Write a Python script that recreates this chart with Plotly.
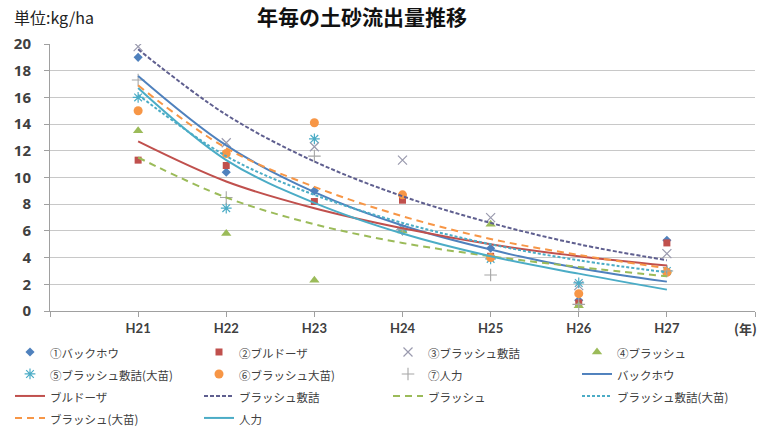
import plotly.graph_objects as go

years = ["H21", "H22", "H23", "H24", "H25", "H26", "H27"]
xpos = [1, 2, 3, 4, 5, 6, 7]

# measured points (kg/ha)
backhoe = [19.0, 10.4, 9.0, 6.0, 4.7, 0.8, 5.3]
bulldozer = [11.3, 10.9, 8.2, 8.3, 4.1, 0.6, 5.1]
brush_mat = [19.8, 12.6, 12.3, 11.3, 7.0, 1.9, 4.3]
brush = [13.5, 5.8, 2.3, 6.0, 6.5, 0.4, 3.0]
brush_mat_large = [16.0, 7.7, 12.9, 6.2, 3.9, 2.1, 3.0]
brush_large = [15.0, 11.8, 14.1, 8.7, 4.0, 1.3, 2.9]
manual = [17.3, 8.5, 11.6, 6.1, 2.7, 0.5, 3.0]

# trend lines
t_backhoe = [17.6, 12.4, 8.9, 6.4, 4.6, 3.2, 2.2]
t_bulldozer = [12.7, 9.7, 7.7, 6.2, 5.0, 4.1, 3.4]
t_brush_mat = [19.6, 14.7, 11.2, 8.6, 6.6, 5.0, 3.8]
t_brush = [11.5, 8.5, 6.5, 5.1, 4.1, 3.3, 2.6]
t_brush_mat_large = [16.2, 11.6, 8.7, 6.6, 5.0, 3.8, 2.9]
t_brush_large = [16.9, 12.2, 9.3, 7.1, 5.4, 4.2, 3.2]
t_manual = [16.7, 11.3, 8.1, 5.8, 4.1, 2.8, 1.6]

BLUE = "#4F81BD"
RED = "#C0504D"
GREEN = "#9BBB59"
AQUA = "#4BACC6"
ORANGE = "#F79646"
GRAYX = "#9a9aae"
GRAYP = "#a6a6a6"


def lg(s):
    return "<span style='font-size:11.5px'>" + s + "</span>"


fig = go.Figure()

pts = [
    ("①バックホウ", backhoe, dict(symbol="diamond", size=7, color=BLUE)),
    ("②ブルドーザ", bulldozer, dict(symbol="square", size=7, color=RED)),
    ("③ブラッシュ敷詰", brush_mat, dict(symbol="x-thin-open", size=9, color=GRAYX, line=dict(color=GRAYX, width=1.2))),
    ("④ブラッシュ", brush, dict(symbol="triangle-up", size=9, color=GREEN)),
    ("⑤ブラッシュ敷詰(大苗)", brush_mat_large, dict(symbol="asterisk-open", size=9, color=AQUA, line=dict(color=AQUA, width=1.2))),
    ("⑥ブラッシュ大苗)", brush_large, dict(symbol="circle", size=9, color=ORANGE)),
    ("⑦人力", manual, dict(symbol="cross-thin-open", size=9, color=GRAYP, line=dict(color=GRAYP, width=1.1))),
]
for name, vals, mk in pts:
    fig.add_trace(go.Scatter(x=xpos, y=vals, mode="markers", name=lg(name), marker=mk))

lines = [
    ("バックホウ", t_backhoe, dict(color=BLUE, width=2, dash="solid")),
    ("ブルドーザ", t_bulldozer, dict(color=RED, width=2, dash="solid")),
    ("ブラッシュ敷詰", t_brush_mat, dict(color="#5f5f8f", width=2, dash="4px,2px")),
    ("ブラッシュ", t_brush, dict(color=GREEN, width=2, dash="7px,5px")),
    ("ブラッシュ敷詰(大苗)", t_brush_mat_large, dict(color=AQUA, width=2, dash="3px,2px")),
    ("ブラッシュ(大苗)", t_brush_large, dict(color=ORANGE, width=2, dash="7px,5px")),
    ("人力", t_manual, dict(color=AQUA, width=2, dash="solid")),
]
for name, vals, ln in lines:
    fig.add_trace(go.Scatter(x=xpos, y=vals, mode="lines", name=lg(name), line=ln,
                             line_shape="spline"))

TICKFONT = dict(family="Lato, 'Noto Sans CJK JP', sans-serif", size=13, color="#404040", weight="bold")

PW, PH = 705, 267

fig.update_layout(
    width=760, height=428,
    margin=dict(l=50, r=5, t=44, b=117, autoexpand=False),
    paper_bgcolor="white", plot_bgcolor="white",
    font=dict(family="'Noto Sans CJK JP', sans-serif", color="#404040"),
    title=dict(text="<b>年毎の土砂流出量推移</b>", x=362 / 760, xanchor="center",
               y=1 - 18 / 428, yanchor="middle",
               font=dict(size=21, color="#111111", family="'Noto Sans CJK JP', sans-serif")),
    showlegend=True,
    legend=dict(orientation="h", xref="paper", yref="paper",
                x=(10 - 50) / PW, y=(311 - 336) / PH, xanchor="left", yanchor="top",
                entrywidth=144, entrywidthmode="pixels",
                font=dict(size=14.6, color="#404040"),
                bgcolor="rgba(0,0,0,0)", itemwidth=30),
    xaxis=dict(range=[0, 8], tickvals=[0, 1, 2, 3, 4, 5, 6, 7, 8],
               ticktext=[""] + years + [""],
               showgrid=False, zeroline=False,
               showline=True, linecolor="#a0a0a0", linewidth=1,
               ticks="outside", ticklen=5, tickcolor="#a0a0a0",
               tickfont=TICKFONT),
    yaxis=dict(range=[0, 20], dtick=2, showgrid=True, gridcolor="#c8c8c8", gridwidth=1,
               zeroline=False, showline=True, linecolor="#a0a0a0", linewidth=1,
               ticks="outside", ticklen=5, tickcolor="#a0a0a0",
               ticklabelstandoff=10,
               tickfont=dict(TICKFONT, family="'Open Sans', sans-serif", size=15)),
    annotations=[
        dict(text="単位:kg/ha", xref="paper", yref="paper", x=(12 - 50) / PW, y=1 + 27 / PH,
             xanchor="left", yanchor="middle", showarrow=False,
             font=dict(size=16, color="#222222")),
        dict(text="<b>(年)</b>", xref="paper", yref="paper", x=(745 - 50) / PW, y=-17 / PH,
             xanchor="center", yanchor="middle", showarrow=False,
             font=dict(size=13, color="#404040", family="'Noto Sans CJK JP', sans-serif")),
    ],
)

fig.write_html("out.html")
